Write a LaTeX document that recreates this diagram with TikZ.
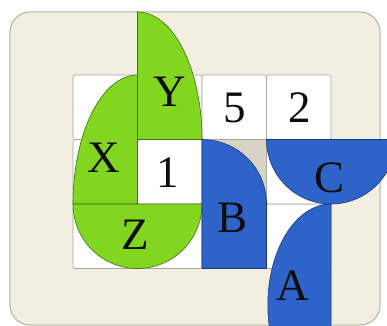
\documentclass[tikz,border=0pt]{standalone}
\usepackage{fontspec}
\setmainfont{Liberation Serif}
\usepackage{xcolor}
\usepackage{tikz}
\definecolor{panelbeige}{HTML}{F3EFE0}
\definecolor{panelrim}{HTML}{B4B0A4}
\definecolor{restgray}{HTML}{D8D3C4}
\definecolor{leafgreen}{HTML}{82D620}
\definecolor{leafdark}{HTML}{3E7212}
\definecolor{tileblue}{HTML}{2E64CA}
\definecolor{bluedark}{HTML}{1A3A80}

\begin{document}
\begin{tikzpicture}[x=64.5pt,y=64.5pt,font=\fontsize{45}{45}\selectfont,
  cell/.style={fill=white,draw=gray!70,line width=0.7pt,rounded corners=1.5pt},
  greenpart/.style={fill=leafgreen,draw=leafdark,line width=0.6pt},
  bluepart/.style={fill=tileblue,draw=bluedark,line width=0.6pt},
  lab/.style={text=black!95,inner sep=0pt}]
\useasboundingbox (-1.132,-0.891) rectangle (4.868,4.163);
\clip (-1.132,-0.891) rectangle (4.868,4.163);
\fill[white] (-1.132,-0.891) rectangle (4.868,4.163);
\draw[fill=panelbeige,draw=panelrim,line width=1pt,rounded corners=20pt] (-0.977,-0.876) rectangle (4.76,3.977);
% grid of cells
\foreach \i in {0,...,3}{\foreach \j in {0,1,2}{\draw[cell] (\i,\j) rectangle ++(1,1);}}
\fill[restgray] (2,1) rectangle (3,2);
\draw[gray!70,line width=0.7pt] (2,1) rectangle (3,2);
% green pieces
\draw[greenpart] (1,2) -- (1,3.977) arc[start angle=90,end angle=0,x radius=1,y radius=1.977] -- cycle;
\draw[greenpart] (1,1) -- (1,3) arc[start angle=90,end angle=180,x radius=1,y radius=2] -- cycle;
\draw[greenpart] (0,1) arc[start angle=180,end angle=360,radius=1] -- cycle;
% blue pieces
\draw[bluepart] (2,0) -- (2,2) arc[start angle=90,end angle=0,radius=1] -- (3,0) -- cycle;
\draw[bluepart] (3,2) arc[start angle=180,end angle=360,radius=1] -- cycle;
\draw[bluepart] (4,1) arc[start angle=90,end angle=270,x radius=0.98,y radius=1.566] -- cycle;
% labels
\node[lab] (labY) at (1.5,2.74) {Y};
\node[lab] (labX) at (0.47,1.71) {X};
\node[lab] (labOne) at (1.47,1.48) {1};
\node[lab] (labFive) at (2.51,2.49) {5};
\node[lab] (labTwo) at (3.52,2.49) {2};
\node[lab] (labZ) at (0.96,0.52) {Z};
\node[lab] (labB) at (2.48,0.78) {B};
\node[lab] (labC) at (3.98,1.40) {C};
\node[lab] (labA) at (3.41,-0.26) {A};
\end{tikzpicture}
\end{document}
